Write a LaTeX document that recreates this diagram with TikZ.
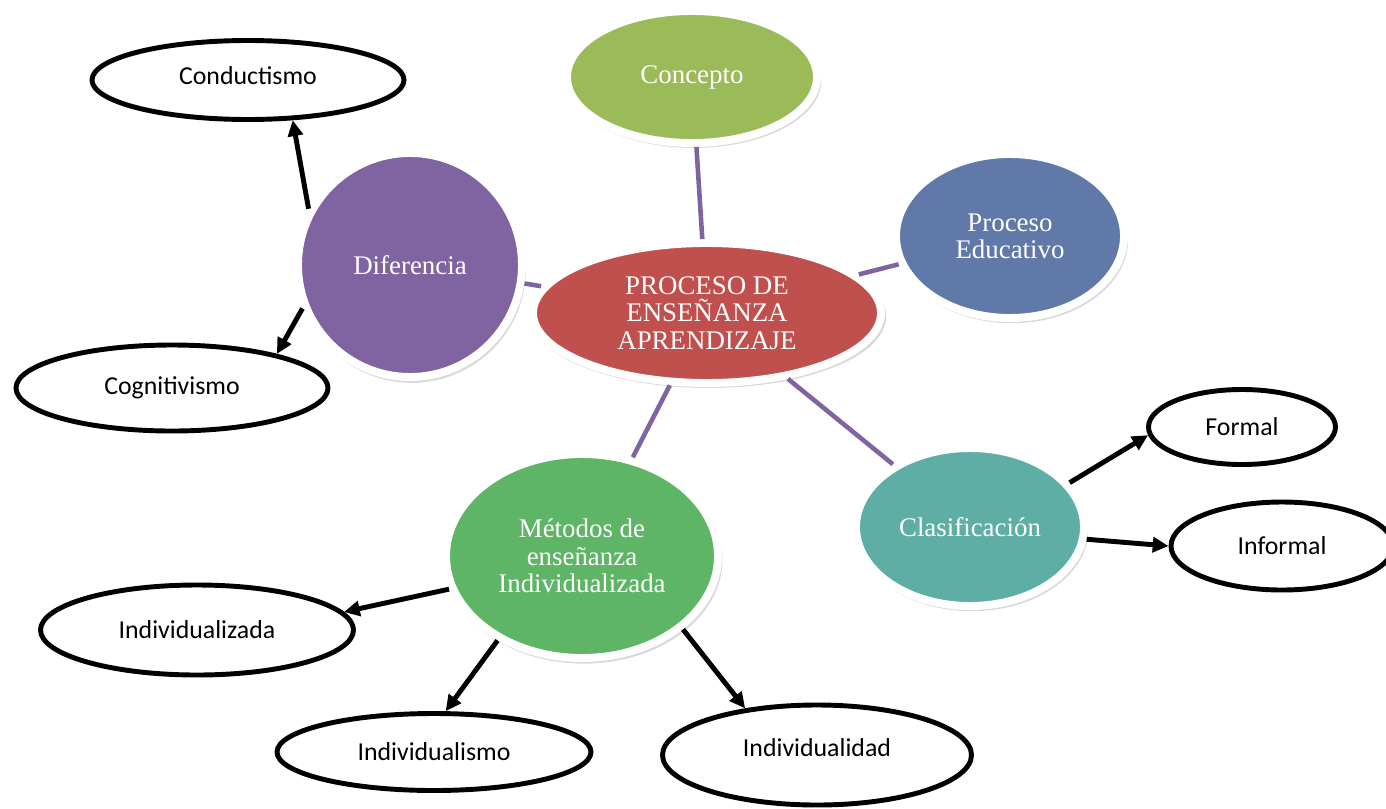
\documentclass[tikz,border=0pt]{standalone}
\usepackage{fontspec}
\setmainfont{Liberation Serif}
\newfontfamily\hojafont{Carlito}
\usetikzlibrary{arrows.meta,positioning,shapes.geometric,shadows}
\definecolor{rojotema}{HTML}{C0504D}
\definecolor{moradotema}{HTML}{8064A2}
\definecolor{verdeconcepto}{HTML}{9BBB59}
\definecolor{azulproceso}{HTML}{6079A9}
\definecolor{verdemetodos}{HTML}{5DB565}
\definecolor{turquesa}{HTML}{5EAEA6}

\begin{document}
\begin{tikzpicture}[node distance=2cm,on grid,
  tema/.style={ellipse,draw=white,line width=4.5pt,text=white,inner sep=0pt,align=center,
    font=\fontsize{15.3}{15.5}\selectfont,
    drop shadow={shadow xshift=1pt,shadow yshift=-2pt,opacity=0.3,shadow scale=1.02}},
  hoja/.style={ellipse,draw=black,line width=2.8pt,fill=white,inner sep=0pt,
    font=\hojafont\fontsize{14.7}{16}\selectfont},
  enlace/.style={color=moradotema,line width=2.6pt},
  flecha/.style={color=black,line width=2.8pt,-{Triangle[length=9pt,width=8.5pt]}}]
  \useasboundingbox (-14.14,-9.90) rectangle (13.58,6.26);
  \node[tema,fill=rojotema,minimum width=6.96cm,minimum height=2.8cm] (centro) {PROCESO DE\\ENSEÑANZA\\APRENDIZAJE};
  \node[tema,fill=verdeconcepto,minimum width=5cm,minimum height=2.64cm]   (concepto) [above left=4.72cm and 0.3cm of centro]   {Concepto};
  \node[tema,fill=azulproceso,minimum width=4.56cm,minimum height=3.28cm]  (proceso)  [above right=1.54cm and 6.06cm of centro] {Proceso\\Educativo};
  \node[tema,fill=moradotema,minimum width=4.48cm,minimum height=4.48cm]   (dif)      [above left=0.96cm and 5.94cm of centro]   {Diferencia};
  \node[tema,fill=verdemetodos,minimum width=5.44cm,minimum height=4.08cm] (met)      [below left=4.86cm and 2.5cm of centro]    {Métodos de\\enseñanza\\Individualizada};
  \node[tema,fill=turquesa,minimum width=4.56cm,minimum height=3.16cm]     (clas)     [below right=4.28cm and 5.26cm of centro]  {Clasificación};
  \node[hoja,minimum width=6.24cm,minimum height=1.58cm] (cond)   [above left=3.7cm and 3.24cm of dif]    {\raisebox{5pt}{Conductismo}};
  \node[hoja,minimum width=6.24cm,minimum height=1.72cm] (cog)    [below left=2.46cm and 4.76cm of dif]   {Cognitivismo};
  \node[hoja,minimum width=6.26cm,minimum height=1.8cm]  (izada)  [below left=1.48cm and 7.7cm of met]    {Individualizada};
  \node[hoja,minimum width=6.28cm,minimum height=1.54cm] (ismo)   [below left=3.92cm and 2.96cm of met]   {Individualismo};
  \node[hoja,minimum width=6.18cm,minimum height=2cm]    (idad)   [below right=3.98cm and 4.7cm of met]   {\raisebox{8pt}{Individualidad}};
  \node[hoja,minimum width=3.74cm,minimum height=1.5cm]  (formal) [above right=2cm and 5.44cm of clas]   {Formal};
  \node[hoja,minimum width=4.44cm,minimum height=1.76cm] (inform) [below right=0.38cm and 6.24cm of clas] {Informal};
  \path[enlace] (centro) edge (concepto)
                (centro) edge (proceso)
                (centro) edge (dif)
                (centro) edge (met)
                (centro) edge (clas);
  \path[flecha] (dif.151) edge (cond.-42)
                (dif.202) edge (cog.18)
                (met.194) edge (izada.7)
                (met.225) edge (ismo.74)
                (met.-36) edge (idad.147)
                (clas.24) edge (formal.185)
                (clas.-6) edge (inform.180);
\end{tikzpicture}
\end{document}
